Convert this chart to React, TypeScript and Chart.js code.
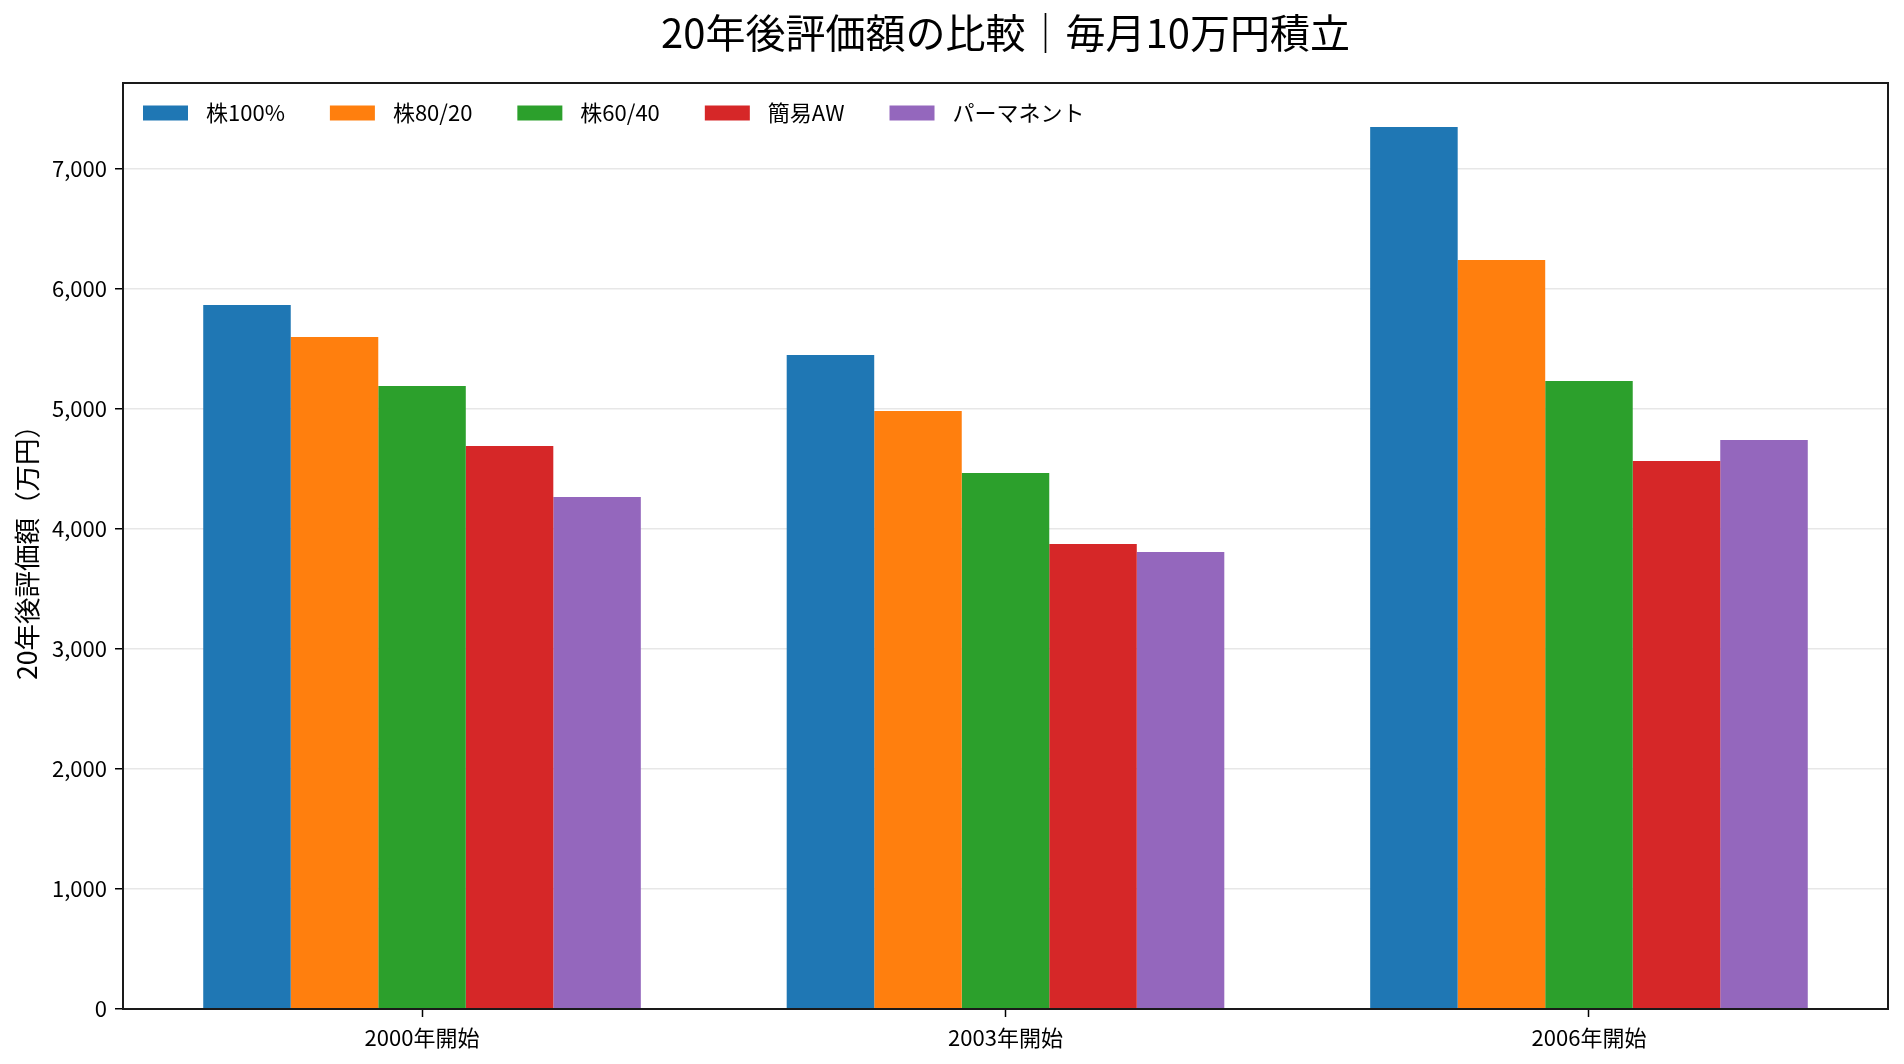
import React, { useEffect, useRef } from "react";
import { Chart, registerables } from "chart.js";

Chart.register(...registerables);

const FONT = "'Noto Sans CJK JP', 'Noto Sans', sans-serif";

// Start years of the 20-year monthly investment simulation
const categories = ["2000年開始", "2003年開始", "2006年開始"];

// Portfolio names and their final values (万円)
const seriesNames = ["株100%", "株80/20", "株60/40", "簡易AW", "パーマネント"];
const stock100 = [5867, 5450, 7350];
const stock80 = [5600, 4983, 6242];
const stock60 = [5192, 4467, 5233];
const simpleAW = [4692, 3875, 4567];
const permanent = [4267, 3808, 4742];
const seriesColors = ["#1f77b4", "#ff7f0e", "#2ca02c", "#d62728", "#9467bd"];

const yTickStep = 1000;
const titleText = "20年後評価額の比較｜毎月10万円積立";
const yAxisLabel = "20年後評価額（万円）";

// Legend drawn inside the plot, in one row at the top left
const inlineLegend = {
  id: "inlineLegend",
  afterDraw(chart: any) {
    const { ctx, chartArea } = chart;
    ctx.save();
    ctx.font = `22px ${FONT}`;
    ctx.textBaseline = "middle";
    ctx.textAlign = "left";
    let x = chartArea.left + 20;
    const cy = chartArea.top + 30;
    chart.data.datasets.forEach((ds: any) => {
      ctx.fillStyle = ds.backgroundColor;
      ctx.fillRect(x, cy - 7.5, 45, 15);
      ctx.fillStyle = "#000";
      ctx.fillText(ds.label, x + 63, cy);
      x += 63 + ctx.measureText(ds.label).width + 45;
    });
    ctx.restore();
  },
};

// Box around the plotting area
const frame = {
  id: "frame",
  afterDraw(chart: any) {
    const { ctx, chartArea } = chart;
    ctx.save();
    ctx.strokeStyle = "#1a1a1a";
    ctx.lineWidth = 2;
    ctx.strokeRect(
      chartArea.left,
      chartArea.top,
      chartArea.right - chartArea.left,
      chartArea.bottom - chartArea.top
    );
    ctx.restore();
  },
};

export default function App() {
  const canvasRef = useRef<HTMLCanvasElement | null>(null);

  useEffect(() => {
    if (!canvasRef.current) return;
    Chart.defaults.font.family = FONT;

    const seriesValues = [stock100, stock80, stock60, simpleAW, permanent];
    const groupWidth = 0.75;
    const span = categories.length - 1 + groupWidth;
    const xMin = -groupWidth / 2 - span * 0.05;
    const xMax = categories.length - 1 + groupWidth / 2 + span * 0.05;
    const yMax = Math.max(...seriesValues.flat()) * 1.05;

    const chart = new Chart(canvasRef.current, {
      type: "bar",
      data: {
        datasets: seriesNames.map((name, k) => ({
          label: name,
          data: seriesValues[k].map((v, i) => ({ x: i, y: v })),
          backgroundColor: seriesColors[k],
          borderWidth: 0,
          categoryPercentage: groupWidth,
          barPercentage: 1,
        })),
      },
      options: {
        animation: false,
        responsive: false,
        devicePixelRatio: 1,
        layout: { padding: { left: 0, right: 16, top: 0, bottom: 0 } },
        plugins: {
          legend: { display: false },
          tooltip: { enabled: false },
          title: {
            display: true,
            text: titleText,
            fullSize: false,
            color: "#000",
            font: { size: 40, weight: "normal", family: FONT },
            padding: { top: 9, bottom: 26 },
          },
        },
        scales: {
          x: {
            type: "linear",
            min: xMin,
            max: xMax,
            offset: false,
            grid: {
              offset: false,
              drawOnChartArea: false,
              drawTicks: true,
              tickLength: 8,
              tickWidth: 1.5,
              tickColor: "#000",
            },
            border: { display: false },
            afterBuildTicks: (scale: any) => {
              scale.ticks = categories.map((_, i) => ({ value: i }));
            },
            ticks: {
              autoSkip: false,
              maxRotation: 0,
              padding: 7,
              color: "#000",
              font: { size: 22 },
              callback: (v: any) => categories[v] ?? "",
            },
            afterFit: (scale: any) => {
              scale.height = 55;
            },
          },
          y: {
            min: 0,
            max: yMax,
            z: 1,
            grid: {
              color: "rgba(176,176,176,0.3)",
              lineWidth: 1.5,
              tickColor: "#000",
              tickLength: 8,
              tickWidth: 1.5,
            },
            border: { display: false },
            afterBuildTicks: (scale: any) => {
              const ticks = [];
              for (let v = 0; v <= yMax; v += yTickStep) ticks.push({ value: v });
              scale.ticks = ticks;
            },
            ticks: {
              padding: 8,
              color: "#000",
              font: { size: 22 },
              callback: (v: any) => Number(v).toLocaleString("en-US"),
            },
            title: {
              display: true,
              text: yAxisLabel,
              color: "#000",
              font: { size: 26.5 },
              padding: { top: 11, bottom: 0 },
            },
            afterFit: (scale: any) => {
              scale.width = 123;
            },
          },
        },
      },
      plugins: [inlineLegend, frame],
    } as any);

    return () => chart.destroy();
  }, []);

  return (
    <div style={{ position: "absolute", left: 0, top: 0, width: 1904, height: 1064, background: "#fff" }}>
      <canvas ref={canvasRef} width={1904} height={1064} style={{ display: "block" }} />
    </div>
  );
}
